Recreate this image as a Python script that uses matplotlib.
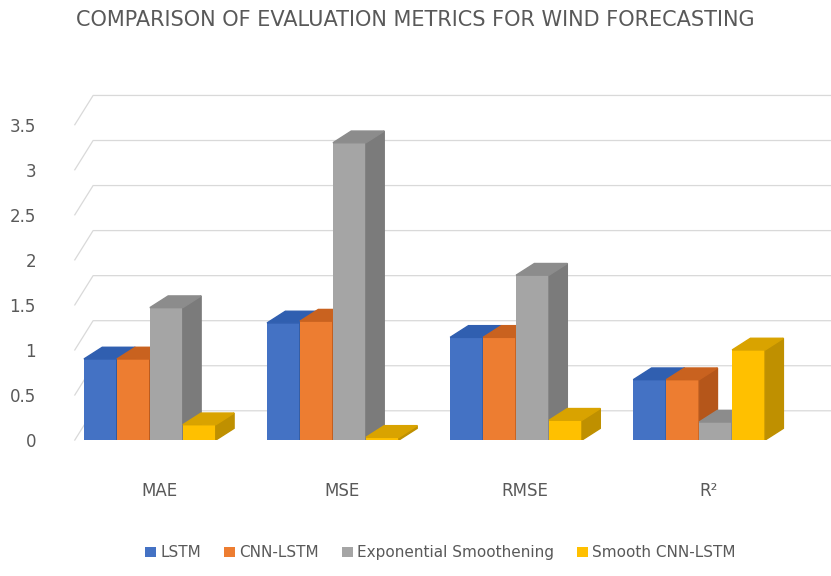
import matplotlib
matplotlib.use("Agg")
import matplotlib.pyplot as plt
from matplotlib.patches import Polygon
import numpy as np

categories = ["MAE", "MSE", "RMSE", "R²"]
series = ["LSTM", "CNN-LSTM", "Exponential Smoothening", "Smooth CNN-LSTM"]
lstm = [0.90, 1.30, 1.14, 0.67]
cnn_lstm = [0.90, 1.32, 1.14, 0.67]
exp_smooth = [1.47, 3.30, 1.83, 0.20]
smooth_cnn = [0.17, 0.03, 0.22, 1.00]
values = [lstm, cnn_lstm, exp_smooth, smooth_cnn]
colors = ["#4472C4", "#ED7D31", "#A5A5A5", "#FFC000"]
side = ["#2F5597", "#B5561A", "#7B7B7B", "#BF9000"]
top = ["#305FB0", "#C9621F", "#8C8C8C", "#D9A300"]
yticks = [0, 0.5, 1, 1.5, 2, 2.5, 3, 3.5]

fig = plt.figure(figsize=(8.31, 5.76), dpi=100)
ax = fig.add_axes([0.09, 0.236, 0.91, 0.61])
ax.set_xlim(-0.41, 3.72)
ax.set_ylim(0, 3.9)
w = 0.18
dx, dy = 0.1, 0.13
for t in yticks:
    ax.plot([-0.41, -0.41 + dx * 1.0, 3.72], [t, t + dy * 2.5, t + dy * 2.5],
            color="#D9D9D9", lw=0.9, zorder=0, clip_on=False)
x = np.arange(len(categories))
for i, vals in enumerate(values):
    xs = x + (i - 1.5) * w
    ax.bar(xs, vals, width=w, color=colors[i], label=series[i], zorder=2 + i)
    for xc, v in zip(xs, vals):
        l, r = xc - w / 2, xc + w / 2
        ax.add_patch(Polygon([[r, 0], [r + dx, dy], [r + dx, v + dy], [r, v]],
                             closed=True, color=side[i], zorder=2 + i))
        ax.add_patch(Polygon([[l, v], [r, v], [r + dx, v + dy], [l + dx, v + dy]],
                             closed=True, color=top[i], zorder=2 + i))
ax.set_yticks(yticks)
ax.set_yticklabels([f"{t:g}" for t in yticks], fontsize=12, color="#595959")
ax.set_xticks(x + 0.05)
ax.set_xticklabels(categories, fontsize=12, color="#595959")
ax.tick_params(length=0, axis="x", pad=30)
ax.tick_params(length=0, axis="y", pad=28)
for s in ax.spines.values():
    s.set_visible(False)
fig.text(0.5, 0.965, "COMPARISON OF EVALUATION METRICS FOR WIND FORECASTING",
         ha="center", va="center", fontsize=15, color="#595959")
fig.legend(loc="center", bbox_to_anchor=(0.53, 0.04), ncol=4, frameon=False,
           fontsize=11, handlelength=0.7, handleheight=0.7, columnspacing=1.5,
           handletextpad=0.3, labelcolor="#595959")
fig.savefig("out.png", dpi=100)
